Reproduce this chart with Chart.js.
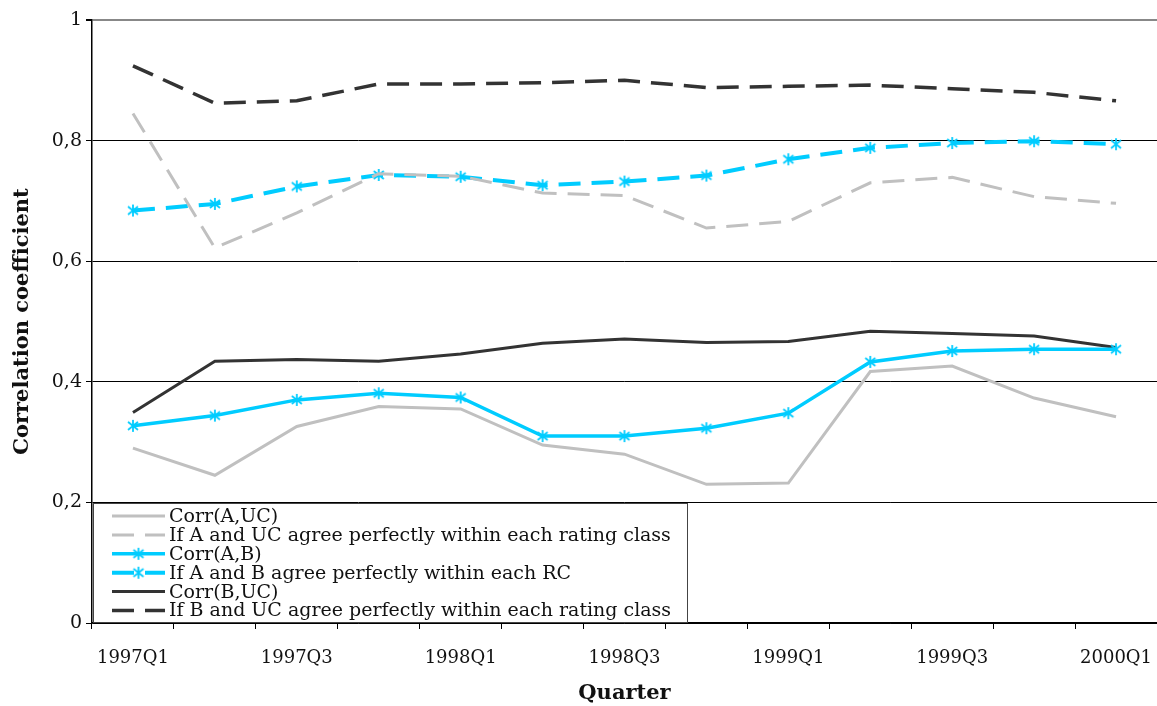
<!DOCTYPE html>
<html>
<head>
<meta charset="utf-8">
<script src="https://cdn.jsdelivr.net/npm/chart.js@4.4.1/dist/chart.umd.min.js"></script>
<style>
  html, body { margin: 0; padding: 0; background: #fff; }
</style>
</head>
<body>
<canvas id="corrChart" width="1157" height="706"></canvas>
<script>
const quarters = ["1997Q1", "1997Q2", "1997Q3", "1997Q4", "1998Q1", "1998Q2", "1998Q3",
  "1998Q4", "1999Q1", "1999Q2", "1999Q3", "1999Q4", "2000Q1"];
const yTickLabels = ["0", "0,2", "0,4", "0,6", "0,8", "1"];

const corrAUC = [0.290, 0.245, 0.326, 0.359, 0.355, 0.295, 0.280, 0.230, 0.232, 0.417, 0.426, 0.373, 0.342];
const perfectAUC = [0.845, 0.622, 0.680, 0.745, 0.741, 0.713, 0.709, 0.655, 0.666, 0.730, 0.739, 0.707, 0.696];
const corrAB = [0.327, 0.344, 0.370, 0.381, 0.374, 0.310, 0.310, 0.323, 0.348, 0.433, 0.451, 0.454, 0.454];
const perfectAB = [0.684, 0.695, 0.724, 0.743, 0.740, 0.726, 0.732, 0.742, 0.769, 0.788, 0.796, 0.799, 0.794];
const corrBUC = [0.349, 0.434, 0.437, 0.434, 0.446, 0.464, 0.471, 0.465, 0.467, 0.484, 0.480, 0.476, 0.457];
const perfectBUC = [0.924, 0.862, 0.866, 0.894, 0.894, 0.896, 0.900, 0.888, 0.890, 0.892, 0.886, 0.880, 0.866];

const FONT = "'DejaVu Serif', 'Liberation Serif', serif";
const GREY = "#c0c0c0";
const CYAN = "#00ccff";
const DARK = "#333333";
const DASH = [22, 11];

// asterisk marker: vertical stroke plus an X
function makeStar(color) {
  const size = 14;
  const c = document.createElement("canvas");
  c.width = size;
  c.height = size;
  const g = c.getContext("2d");
  g.strokeStyle = color;
  g.lineWidth = 1.8;
  const m = size / 2, r = 6;
  g.beginPath();
  g.moveTo(m, m - r); g.lineTo(m, m + r);
  g.moveTo(m - 5, m - 4); g.lineTo(m + 5, m + 4);
  g.moveTo(m + 5, m - 4); g.lineTo(m - 5, m + 4);
  g.stroke();
  return c;
}
const star = makeStar(CYAN);

// legend box drawn inside the plot, bottom-left
const boxLegend = {
  id: "boxLegend",
  afterDatasetsDraw(chart) {
    const ctx = chart.ctx;
    const area = chart.chartArea;
    const x0 = area.left + 1, y0 = 503, x1 = 688, y1 = area.bottom;
    ctx.save();
    ctx.fillStyle = "#fff";
    ctx.fillRect(x0, y0, x1 - x0, y1 - y0);
    ctx.strokeStyle = "#444";
    ctx.lineWidth = 1;
    ctx.strokeRect(x0 + 0.5, y0 + 0.5, x1 - x0 - 1, y1 - y0 - 1);
    ctx.font = "19px " + FONT;
    ctx.textBaseline = "middle";
    chart.data.datasets.forEach((ds, i) => {
      const y = 516 + i * 18.9;
      ctx.strokeStyle = ds.borderColor;
      ctx.lineWidth = ds.borderWidth;
      ctx.setLineDash(ds.borderDash || []);
      ctx.beginPath();
      ctx.moveTo(112, y);
      ctx.lineTo(165, y);
      ctx.stroke();
      ctx.setLineDash([]);
      if (ds.pointStyle instanceof HTMLCanvasElement) {
        ctx.drawImage(ds.pointStyle, 138.5 - ds.pointStyle.width / 2, y - ds.pointStyle.height / 2);
      }
      ctx.fillStyle = "#111";
      ctx.fillText(ds.label, 169, y + 1);
    });
    ctx.restore();
  }
};

const solid = (label, data, color, width) => ({
  label, data, borderColor: color, backgroundColor: color, borderWidth: width,
  pointRadius: 0, fill: false, tension: 0
});

const datasets = [
  solid("Corr(A,UC)", corrAUC, GREY, 3),
  Object.assign(solid("If A and UC agree perfectly within each rating class", perfectAUC, GREY, 3), { borderDash: DASH }),
  Object.assign(solid("Corr(A,B)", corrAB, CYAN, 3.5), { pointStyle: star, pointRadius: 7 }),
  Object.assign(solid("If A and B agree perfectly within each RC", perfectAB, CYAN, 4), { borderDash: DASH, pointStyle: star, pointRadius: 7 }),
  solid("Corr(B,UC)", corrBUC, DARK, 3),
  Object.assign(solid("If B and UC agree perfectly within each rating class", perfectBUC, DARK, 3.5), { borderDash: DASH })
];

const ctx = document.getElementById("corrChart").getContext("2d");
new Chart(ctx, {
  type: "line",
  data: { labels: quarters, datasets },
  plugins: [boxLegend],
  options: {
    responsive: false,
    animation: false,
    layout: { autoPadding: false, padding: { top: 20, right: 0, bottom: 0, left: 0 } },
    plugins: {
      legend: { display: false },
      tooltip: { enabled: false }
    },
    scales: {
      x: {
        offset: true,
        afterFit: (s) => { s.height = 83; },
        grid: { offset: true, drawOnChartArea: false, color: "#000", tickLength: 6 },
        border: { color: "#000", width: 1.5 },
        ticks: {
          autoSkip: false,
          maxRotation: 0,
          padding: 2,
          color: "#111",
          font: { family: FONT, size: 18, lineHeight: 1 },
          // blank first line pushes the label down without adding side padding
          callback: (v, i) => (i % 2 === 0 ? ["", quarters[i]] : "")
        },
        title: {
          display: true,
          text: "Quarter",
          color: "#111",
          padding: 0,
          font: { family: FONT, size: 21, weight: "bold" }
        }
      },
      y: {
        min: 0,
        max: 1,
        afterFit: (s) => { s.width = 92; },
        grid: {
          color: (c) => (c.tick && c.tick.value === 1 ? "#888" : "#000"),
          tickColor: "#000",
          tickLength: 6,
          lineWidth: (c) => (c.tick && c.tick.value === 1 ? 2 : 1)
        },
        border: { color: "#000", width: 1.5 },
        ticks: {
          stepSize: 0.2,
          padding: 4,
          color: "#111",
          font: { family: FONT, size: 19 },
          callback: (v, i) => yTickLabels[i]
        },
        title: {
          display: true,
          text: "Correlation coefficient",
          color: "#111",
          padding: { top: 10 },
          font: { family: FONT, size: 21, weight: "bold" }
        }
      }
    }
  }
});
</script>
</body>
</html>
